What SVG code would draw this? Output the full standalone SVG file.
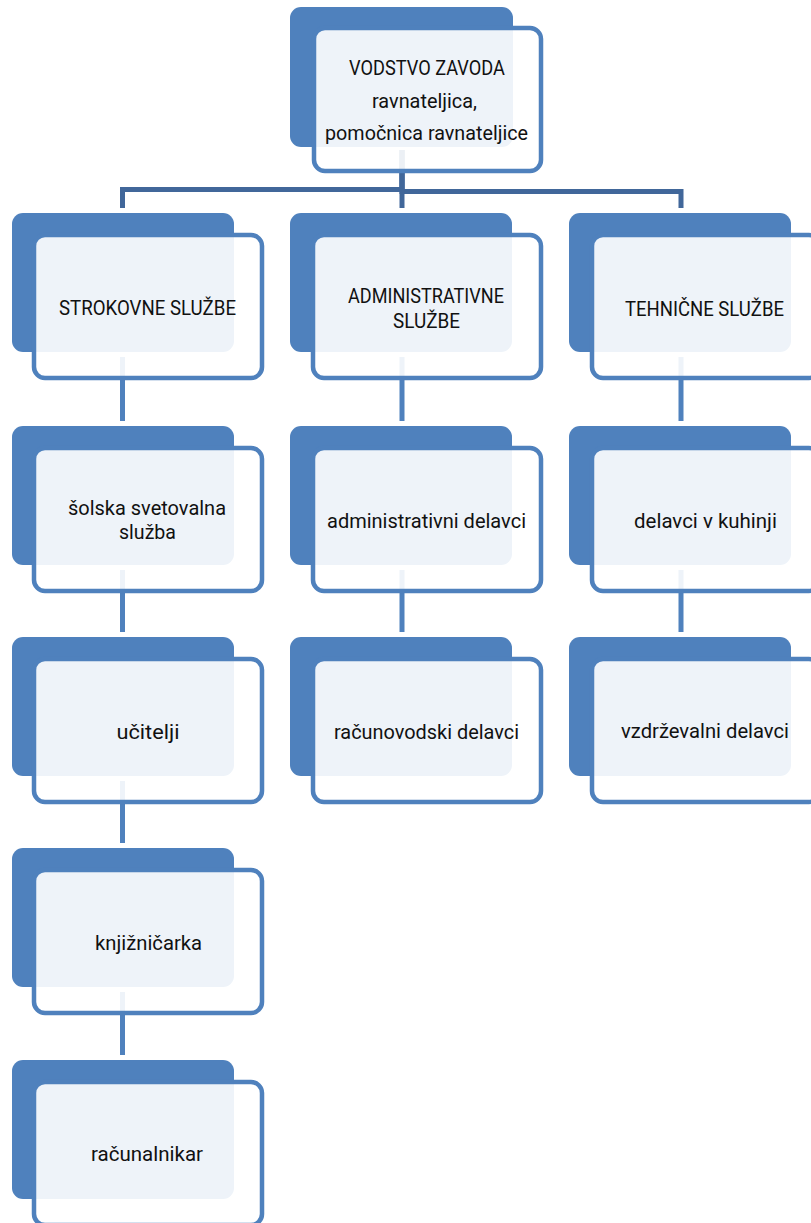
<svg xmlns="http://www.w3.org/2000/svg" width="811" height="1223" viewBox="0 0 811 1223">
<defs>
<style>
.back{fill:#4f81bd}
.front{fill:#ffffff;fill-opacity:0.9;stroke:#4f81bd;stroke-width:4.5}
.el{fill:none;stroke:#41679a;stroke-width:5}
.vc{fill:none;stroke:#4f81bd;stroke-width:5}
text{font-family:Roboto,"Liberation Sans",sans-serif;font-size:21px;fill:#111;text-anchor:middle}
</style>
</defs>
<rect width="811" height="1223" fill="#ffffff"/>
<g id="connectors">
<path class="el" d="M402,150 V189.5 H122.5 V208"/>
<path class="el" d="M402,150 V191.5 H681 V208"/>
<path class="el" d="M402,150 V208"/>
<path class="vc" d="M122.5,357 V421 M122.5,570 V632 M122.5,781 V843 M122.5,992 V1055"/>
<path class="vc" d="M402,357 V421 M402,570 V632"/>
<path class="vc" d="M681,357 V421 M681,570 V632"/>
</g>
<g id="n-vodstvo">
<rect class="back" x="290" y="7" width="223" height="140" rx="11"/>
<rect class="front" x="314" y="28" width="227" height="143" rx="11"/>
<text x="427" y="75" textLength="156" lengthAdjust="spacingAndGlyphs">VODSTVO ZAVODA</text>
<text x="424.5" y="108" textLength="105" lengthAdjust="spacingAndGlyphs">ravnateljica,</text>
<text x="426.5" y="140" textLength="203" lengthAdjust="spacingAndGlyphs">pomočnica ravnateljice</text>
</g>
<g id="n-strokovne">
<rect class="back" x="12" y="213" width="222" height="139" rx="11"/>
<rect class="front" x="34" y="235" width="228" height="143" rx="11"/>
<text x="147.5" y="315" textLength="177" lengthAdjust="spacingAndGlyphs">STROKOVNE SLUŽBE</text>
</g>
<g id="n-administrativne">
<rect class="back" x="290" y="213" width="222" height="139" rx="11"/>
<rect class="front" x="313" y="235" width="228" height="143" rx="11"/>
<text x="426" y="303" textLength="156" lengthAdjust="spacingAndGlyphs">ADMINISTRATIVNE</text>
<text x="426.5" y="328" textLength="67" lengthAdjust="spacingAndGlyphs">SLUŽBE</text>
</g>
<g id="n-tehnicne">
<rect class="back" x="569" y="213" width="222" height="139" rx="11"/>
<rect class="front" x="592" y="235" width="228" height="143" rx="11"/>
<text x="704.5" y="316" textLength="159" lengthAdjust="spacingAndGlyphs">TEHNIČNE SLUŽBE</text>
</g>
<g id="n-solska">
<rect class="back" x="12" y="426" width="222" height="139" rx="11"/>
<rect class="front" x="34" y="448" width="228" height="143" rx="11"/>
<text x="147" y="515" textLength="158" lengthAdjust="spacingAndGlyphs">šolska svetovalna</text>
<text x="147.5" y="539" textLength="57" lengthAdjust="spacingAndGlyphs">služba</text>
</g>
<g id="n-admin-delavci">
<rect class="back" x="290" y="426" width="222" height="139" rx="11"/>
<rect class="front" x="313" y="448" width="228" height="143" rx="11"/>
<text x="426.5" y="528" textLength="199" lengthAdjust="spacingAndGlyphs">administrativni delavci</text>
</g>
<g id="n-kuhinja">
<rect class="back" x="569" y="426" width="222" height="139" rx="11"/>
<rect class="front" x="592" y="448" width="228" height="143" rx="11"/>
<text x="705.5" y="528" textLength="143" lengthAdjust="spacingAndGlyphs">delavci v kuhinji</text>
</g>
<g id="n-ucitelji">
<rect class="back" x="12" y="637" width="222" height="139" rx="11"/>
<rect class="front" x="34" y="659" width="228" height="143" rx="11"/>
<text x="148" y="739" textLength="63" lengthAdjust="spacingAndGlyphs">učitelji</text>
</g>
<g id="n-racunovodski">
<rect class="back" x="290" y="637" width="222" height="139" rx="11"/>
<rect class="front" x="313" y="659" width="228" height="143" rx="11"/>
<text x="426.5" y="739" textLength="185" lengthAdjust="spacingAndGlyphs">računovodski delavci</text>
</g>
<g id="n-vzdrzevalni">
<rect class="back" x="569" y="637" width="222" height="139" rx="11"/>
<rect class="front" x="592" y="659" width="228" height="143" rx="11"/>
<text x="705" y="738" textLength="168" lengthAdjust="spacingAndGlyphs">vzdrževalni delavci</text>
</g>
<g id="n-knjiznicarka">
<rect class="back" x="12" y="848" width="222" height="139" rx="11"/>
<rect class="front" x="34" y="870" width="228" height="143" rx="11"/>
<text x="148.5" y="950" textLength="107" lengthAdjust="spacingAndGlyphs">knjižničarka</text>
</g>
<g id="n-racunalnikar">
<rect class="back" x="12" y="1060" width="222" height="139" rx="11"/>
<rect class="front" x="34" y="1082" width="228" height="143" rx="11"/>
<text x="147" y="1161" textLength="112" lengthAdjust="spacingAndGlyphs">računalnikar</text>
</g>
</svg>
